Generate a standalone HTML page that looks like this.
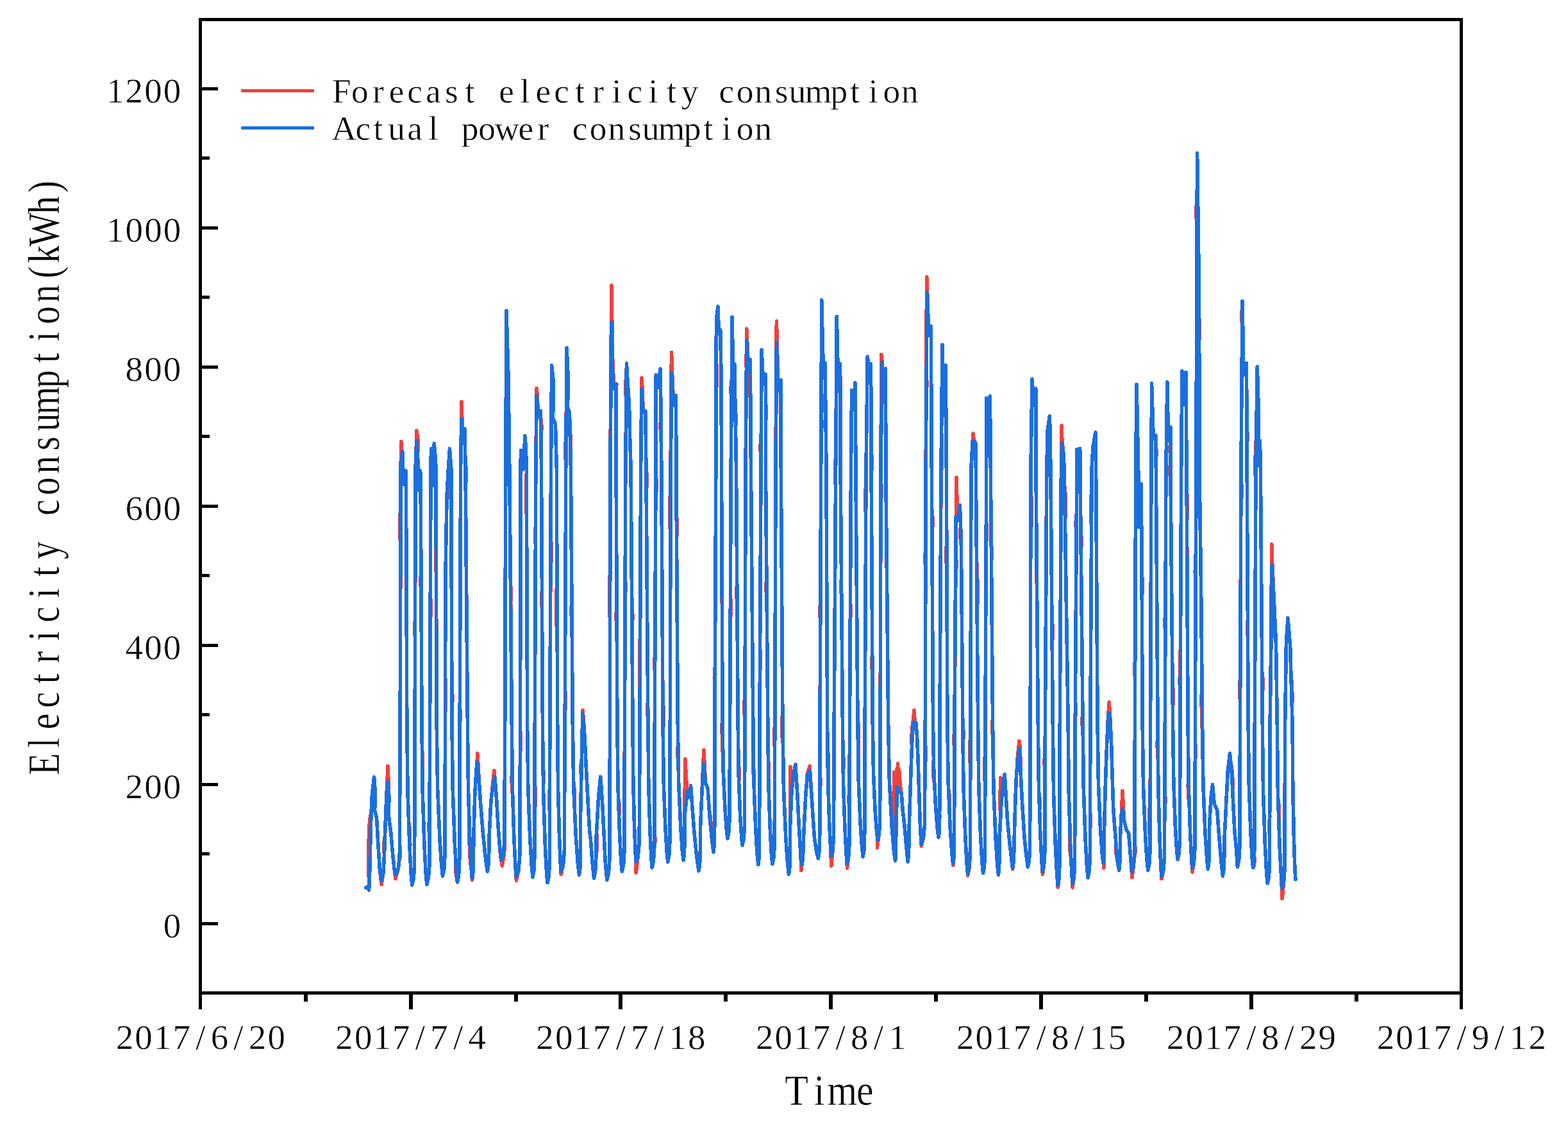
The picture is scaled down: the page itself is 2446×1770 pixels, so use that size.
<!DOCTYPE html>
<html lang="en"><head><meta charset="utf-8">
<title>Electricity consumption</title>
<style>
html,body{margin:0;padding:0;background:#fff;}
body{width:2446px;height:1770px;overflow:hidden;}
svg{display:block;}
text{font-family:"Liberation Serif","DejaVu Serif",serif;fill:#000;white-space:pre;stroke:#fff;stroke-width:0.5px;stroke-linejoin:round;}
.ax{stroke:#000;stroke-width:5;fill:none;stroke-linecap:butt;}
.red{stroke:#F14040;fill:none;stroke-linejoin:round;stroke-linecap:round;}
.blue{stroke:#1A6FDF;fill:none;stroke-linejoin:round;stroke-linecap:round;}
</style></head><body>
<svg width="2446" height="1770" viewBox="0 0 2446 1770">
<rect x="0" y="0" width="2446" height="1770" fill="#fff"/>
<g id="series" shape-rendering="crispEdges">
<path class="red" stroke-width="5.6" d="M571.0,1384.5 573.0,1383.1 575.6,1388.4 574.7,1324.4 576.2,1285.5 577.0,1276.4 578.9,1267.2 579.7,1258.0 579.6,1248.8 580.4,1239.6 583.6,1212.0 585.4,1236.1 584.6,1264.3 587.5,1274.9 589.8,1315.6 592.4,1356.2 595.1,1379.4 597.7,1363.1 599.1,1342.3 599.5,1333.3 598.8,1323.0 599.2,1312.6 600.6,1302.3 601.6,1271.4 603.0,1239.6 605.1,1194.7 606.9,1244.9 606.2,1271.4 609.7,1297.9 612.7,1333.3 615.4,1358.0 616.8,1370.6 621.5,1354.3 622.4,1344.3 624.3,1334.3 624.4,1325.0 623.4,1315.8 624.2,1130.0 624.9,848.2 623.9,839.1 623.9,830.0 623.9,821.0 623.9,811.9 624.0,802.8 625.0,793.7 625.1,730.1 625.7,698.7 626.0,688.7 626.7,701.0 629.4,755.4 633.1,733.8 633.6,793.5 634.8,1130.0 636.0,1235.1 637.6,1281.0 638.9,1290.2 639.2,1299.4 639.5,1308.5 639.8,1317.7 639.3,1326.7 641.2,1362.8 642.8,1380.3 645.2,1370.2 646.6,1350.2 647.2,1130.0 647.5,993.7 646.5,984.6 646.6,975.5 647.6,966.4 648.1,730.1 649.8,682.2 650.0,671.7 651.8,684.6 652.1,696.1 651.5,707.5 651.8,719.0 652.3,764.2 655.7,733.8 656.4,793.5 656.9,893.5 655.9,902.6 656.0,911.7 657.0,920.8 658.0,1130.0 658.4,1168.1 659.5,1177.6 659.6,1187.1 658.7,1196.7 659.2,1234.7 661.9,1317.1 664.2,1361.9 665.8,1379.4 668.4,1369.3 669.9,1349.4 670.1,1303.7 669.1,1294.5 669.1,1285.4 670.2,1276.2 670.6,1130.0 671.2,966.4 672.2,957.3 672.2,948.2 672.3,939.1 671.3,930.0 672.0,730.1 672.5,699.8 676.0,757.2 677.3,691.7 679.6,719.0 679.9,730.1 680.3,839.1 679.3,848.2 679.3,857.3 679.4,866.4 679.4,875.5 679.4,884.6 680.5,893.7 681.2,1130.0 682.6,1229.2 685.9,1307.1 688.7,1349.6 690.5,1366.1 692.7,1356.1 693.9,1336.1 694.5,1130.0 694.5,1111.8 695.6,1102.7 695.6,1093.6 695.6,1084.6 695.6,1075.5 695.6,1066.4 694.6,1057.3 694.9,902.8 696.0,832.1 697.2,770.2 699.4,730.1 701.5,699.7 703.4,726.1 703.8,730.1 703.8,748.2 702.9,757.3 702.9,766.4 702.9,775.5 703.9,784.6 704.8,1075.5 705.9,1084.6 705.9,1093.6 704.9,1102.7 705.0,1130.0 706.3,1233.3 709.3,1314.4 711.2,1347.6 710.8,1358.7 713.5,1375.9 715.5,1365.8 716.7,1345.8 717.2,1130.0 718.2,1120.9 718.3,1111.8 717.3,1102.7 718.2,839.1 717.3,830.0 717.3,821.0 718.3,811.9 718.6,730.1 719.8,644.2 720.0,626.7 720.7,648.3 722.3,691.0 725.0,668.7 725.9,719.8 727.0,730.1 727.1,739.1 727.2,748.2 726.3,757.3 729.4,1130.0 730.5,1231.0 732.3,1290.6 731.6,1300.5 731.9,1310.4 732.5,1321.2 733.0,1332.1 733.5,1342.9 735.1,1353.7 736.5,1372.3 737.9,1360.5 738.6,1339.6 738.8,1306.8 740.9,1236.1 743.0,1200.7 745.0,1174.9 747.1,1214.8 749.7,1253.7 753.3,1297.9 756.8,1333.3 760.3,1359.1 761.9,1349.0 762.8,1328.1 763.0,1306.8 765.6,1253.7 767.1,1237.8 770.9,1201.4 774.5,1244.9 777.1,1289.1 779.8,1324.4 781.1,1337.3 783.4,1350.2 784.9,1340.8 786.4,1331.3 787.1,1321.3 786.9,1311.4 787.7,1130.0 788.3,920.9 787.3,911.8 787.3,902.8 787.4,893.7 788.4,884.6 788.8,730.1 789.4,602.8 790.5,593.7 790.5,584.6 789.6,575.5 790.0,484.5 793.0,587.7 793.7,644.6 792.8,654.1 794.0,663.6 794.8,730.1 796.4,911.8 797.5,920.9 797.6,930.0 796.7,939.1 798.3,1130.0 799.1,1202.7 798.2,1211.8 798.3,1220.8 798.4,1229.9 799.7,1239.7 801.9,1308.4 804.0,1351.3 805.4,1373.2 808.8,1357.8 810.7,1337.9 811.4,1175.2 812.4,1166.2 812.5,1157.1 812.5,1148.1 811.6,1139.0 811.6,1130.0 812.1,730.1 812.5,702.3 816.0,732.4 819.0,679.7 820.4,700.8 821.3,730.1 821.3,739.1 820.4,748.2 820.4,757.3 820.4,766.4 820.5,775.5 820.5,784.6 820.5,793.7 821.5,802.8 822.6,1130.0 823.8,1229.9 826.8,1308.4 829.3,1351.3 831.0,1367.9 832.8,1357.8 833.8,1337.9 834.0,1265.6 835.0,1256.5 835.0,1247.5 835.1,1238.5 835.1,1229.4 834.1,1220.4 834.3,1130.0 835.4,848.2 834.4,839.1 834.4,830.0 835.5,821.0 835.8,730.1 837.0,612.7 837.2,605.4 837.9,614.4 839.9,650.3 843.4,640.4 843.5,650.4 844.7,660.4 844.8,670.3 843.9,680.3 844.5,730.1 845.4,920.9 844.4,930.0 844.5,939.1 845.5,948.2 846.4,1130.0 847.1,1196.0 848.2,1205.4 848.4,1214.8 847.5,1224.2 847.6,1233.6 850.2,1315.1 852.5,1359.5 854.0,1376.8 856.1,1366.7 857.3,1346.7 857.5,1265.4 856.5,1256.4 856.5,1247.4 856.5,1238.4 857.6,1229.3 857.8,1130.0 858.9,884.6 859.9,875.5 859.9,866.4 860.0,857.3 860.0,848.2 859.0,839.1 859.5,730.1 860.6,569.7 863.7,599.1 862.5,652.1 866.4,660.9 868.3,730.1 868.9,911.8 868.0,920.9 868.0,930.0 868.0,939.1 868.1,948.2 868.1,957.3 868.1,966.4 868.2,975.5 869.2,984.6 869.7,1130.0 870.5,1226.2 872.4,1301.8 874.1,1343.0 875.2,1363.5 878.5,1349.0 880.3,1329.0 881.2,1130.0 881.3,1111.8 882.3,1102.7 882.4,1093.6 882.4,1084.6 881.4,1075.5 882.7,730.1 882.7,720.7 881.8,711.3 881.9,702.0 881.9,692.6 883.0,683.2 884.1,542.7 886.7,599.1 885.3,634.4 888.5,643.3 889.1,672.2 890.4,681.8 890.6,691.5 889.8,701.1 890.4,730.1 891.9,939.1 891.0,948.2 891.0,957.3 892.1,966.4 893.3,1130.0 894.6,1218.6 895.8,1228.4 896.2,1238.1 895.7,1247.8 898.4,1305.8 901.5,1348.0 903.5,1364.4 904.8,1354.3 905.5,1333.4 905.6,1271.4 906.8,1212.5 906.0,1202.7 906.2,1192.8 907.4,1183.0 909.2,1107.6 912.0,1147.7 914.5,1200.7 917.3,1253.7 919.8,1297.9 921.2,1306.8 923.8,1342.1 926.5,1369.7 928.6,1359.6 929.7,1338.7 930.8,1328.1 930.9,1317.4 931.0,1306.8 930.6,1296.4 933.5,1244.9 936.7,1211.1 939.7,1253.7 942.0,1297.9 944.1,1342.1 946.8,1372.3 949.4,1361.4 950.8,1341.4 951.5,1130.0 951.7,966.4 950.7,957.3 950.7,948.2 950.7,939.1 950.7,930.0 950.7,920.9 950.7,911.8 950.7,902.8 951.7,893.7 951.9,730.1 953.6,482.5 953.9,445.1 954.6,491.1 956.0,577.4 957.2,587.0 957.4,596.6 957.5,606.2 961.9,598.9 960.9,608.3 961.1,730.1 962.1,948.2 961.1,957.3 961.2,966.4 962.2,975.5 962.9,1130.0 964.0,1226.2 964.6,1245.1 966.0,1254.6 966.3,1264.0 965.6,1273.5 966.6,1301.8 968.8,1343.0 970.3,1359.1 972.6,1349.0 973.8,1329.0 974.2,1202.4 973.3,1193.3 973.3,1184.3 974.3,1175.2 974.5,1130.0 975.1,930.0 976.1,920.9 976.2,911.8 975.2,902.8 975.8,730.1 976.8,621.4 975.9,612.4 976.0,603.3 976.1,594.2 977.2,585.2 977.4,567.1 979.0,593.8 980.6,618.5 981.6,634.4 982.5,676.9 984.1,730.1 985.5,930.0 986.6,939.1 986.7,948.2 986.7,957.3 986.8,966.4 985.9,975.5 987.0,1130.0 987.8,1219.9 989.6,1290.5 991.2,1329.1 992.2,1360.8 995.4,1334.0 997.2,1314.0 998.1,1130.0 998.3,1057.3 997.4,1048.2 997.4,1039.1 997.4,1030.0 997.5,1020.9 997.5,1011.8 997.6,1002.7 998.6,993.7 999.6,730.1 1000.8,600.7 1001.1,589.2 1001.8,603.3 1003.4,643.3 1006.9,641.3 1007.9,730.1 1009.0,739.1 1009.1,748.2 1009.1,757.3 1008.2,766.4 1010.6,1093.6 1009.7,1102.7 1009.7,1111.8 1010.8,1120.9 1010.9,1130.0 1011.8,1223.6 1014.0,1297.2 1015.9,1337.3 1017.1,1352.9 1019.4,1342.8 1020.7,1322.8 1021.7,1313.7 1021.7,1304.5 1020.8,1295.3 1021.3,1130.0 1021.6,1048.2 1020.7,1039.1 1020.7,1030.0 1021.8,1020.9 1022.8,775.5 1023.8,766.4 1023.9,757.3 1023.9,748.2 1022.9,739.1 1023.0,730.1 1023.3,584.8 1026.9,604.4 1029.9,575.0 1031.1,640.1 1031.2,650.1 1030.2,660.1 1030.3,670.1 1030.4,680.1 1031.5,690.1 1031.8,730.1 1033.9,1093.6 1035.0,1102.7 1035.0,1111.8 1035.1,1120.9 1035.1,1130.0 1034.2,1140.0 1035.2,1219.9 1037.9,1290.5 1040.2,1329.1 1041.7,1344.1 1043.7,1334.0 1044.8,1314.0 1045.3,1130.0 1045.9,830.0 1044.9,821.0 1045.0,811.9 1045.0,802.8 1045.0,793.7 1045.0,784.6 1045.0,775.5 1046.1,766.4 1046.1,730.1 1047.3,570.1 1047.5,549.4 1048.3,574.9 1050.7,632.7 1054.6,616.6 1054.8,730.1 1055.2,802.8 1056.3,811.9 1056.4,821.0 1056.4,830.0 1055.5,839.1 1057.3,1130.0 1057.7,1159.6 1056.9,1169.5 1057.0,1179.3 1058.1,1189.2 1058.6,1218.8 1061.7,1288.6 1064.3,1326.6 1066.1,1341.4 1067.4,1331.3 1068.1,1310.5 1067.5,1253.7 1067.9,1233.7 1069.0,1223.7 1069.2,1213.7 1068.4,1203.7 1068.8,1183.7 1071.4,1229.0 1074.9,1243.1 1077.6,1225.3 1080.2,1262.6 1082.9,1297.9 1086.4,1333.3 1090.0,1358.2 1091.6,1348.1 1091.0,1337.7 1092.4,1327.3 1092.6,1289.1 1095.3,1227.2 1097.9,1169.6 1100.6,1221.9 1104.1,1229.0 1106.1,1260.8 1107.8,1271.4 1108.9,1283.2 1109.1,1295.0 1110.3,1306.8 1112.9,1329.0 1114.1,1319.0 1114.7,1299.0 1115.0,1130.0 1115.3,1066.4 1114.3,1057.3 1114.4,1048.2 1115.4,1039.1 1116.8,730.1 1117.1,609.6 1118.1,600.3 1118.1,591.0 1118.2,581.8 1118.2,572.5 1117.2,563.2 1117.4,498.3 1120.0,477.8 1121.4,520.6 1123.7,514.2 1125.1,588.5 1125.5,730.1 1127.0,1120.9 1126.1,1130.0 1126.2,1139.3 1126.4,1148.7 1126.5,1158.0 1126.7,1167.3 1127.8,1176.7 1128.3,1204.7 1131.1,1263.4 1133.4,1295.4 1135.0,1307.8 1137.0,1297.7 1138.0,1277.8 1138.6,1130.0 1139.2,966.4 1140.3,957.3 1140.3,948.2 1140.3,939.1 1139.4,930.0 1140.2,730.1 1141.1,621.4 1140.1,612.3 1140.2,603.3 1141.3,594.2 1142.1,494.6 1143.5,573.6 1145.8,567.3 1147.0,639.6 1148.1,648.7 1148.3,657.7 1147.4,666.7 1148.5,730.1 1149.7,911.8 1148.8,920.9 1148.8,930.0 1149.9,939.1 1151.2,1130.0 1152.0,1189.4 1153.1,1199.2 1153.2,1209.1 1152.6,1219.5 1154.6,1271.3 1156.7,1305.2 1158.0,1318.4 1160.2,1308.3 1161.4,1288.4 1162.0,1130.0 1162.0,1120.9 1161.0,1111.8 1161.1,1102.7 1161.1,1093.6 1162.1,1084.6 1163.1,730.1 1163.8,627.3 1164.9,618.0 1164.9,608.6 1165.0,599.3 1165.0,589.9 1165.1,580.6 1164.2,571.3 1164.5,524.5 1164.7,512.8 1165.4,527.2 1167.7,577.9 1170.4,560.9 1171.4,730.1 1174.8,1130.0 1175.2,1157.5 1174.3,1166.7 1174.4,1175.9 1174.5,1185.1 1174.6,1194.2 1174.8,1203.4 1175.9,1212.6 1176.0,1221.8 1178.8,1293.9 1181.2,1333.2 1182.8,1348.5 1184.0,1338.4 1184.6,1318.4 1185.0,1130.0 1185.4,1048.2 1186.4,1039.1 1186.5,1030.0 1186.5,1020.9 1185.6,1011.8 1187.0,730.1 1187.1,711.6 1186.2,702.4 1186.2,693.2 1187.3,684.0 1188.1,545.9 1190.7,599.1 1194.6,583.9 1194.5,629.6 1195.5,638.7 1195.5,647.8 1194.5,657.0 1194.4,730.1 1195.9,902.8 1195.0,911.8 1195.0,920.9 1196.1,930.0 1197.8,1130.0 1198.4,1184.8 1199.5,1194.0 1199.6,1203.1 1198.7,1212.2 1198.8,1221.4 1201.3,1293.2 1203.4,1332.4 1204.9,1347.6 1207.0,1337.5 1208.2,1317.5 1208.7,1167.5 1207.7,1158.1 1207.8,1148.8 1207.8,1139.4 1208.8,1130.0 1210.0,730.1 1210.4,648.7 1211.5,639.6 1211.5,630.6 1211.6,621.5 1211.6,612.5 1211.7,603.4 1210.7,594.4 1211.1,522.1 1211.4,500.8 1212.1,527.0 1214.0,609.7 1218.1,592.7 1218.3,730.1 1220.8,1111.8 1219.9,1120.9 1219.9,1130.0 1220.1,1139.8 1220.2,1149.6 1221.4,1159.4 1222.4,1228.1 1225.7,1305.1 1228.6,1347.2 1230.5,1363.5 1231.8,1353.4 1232.4,1332.6 1232.6,1289.1 1232.8,1195.8 1235.4,1229.0 1236.5,1219.3 1238.6,1209.5 1241.7,1192.2 1241.5,1203.2 1243.7,1236.1 1246.4,1289.1 1249.0,1333.3 1249.9,1357.3 1252.4,1338.4 1253.3,1317.5 1253.5,1306.8 1257.0,1236.1 1258.3,1222.8 1258.7,1209.5 1263.2,1194.7 1265.8,1236.1 1268.0,1271.4 1270.3,1305.0 1272.9,1324.4 1276.4,1338.7 1277.9,1328.7 1278.7,1308.7 1278.9,1233.5 1279.9,1224.1 1279.9,1214.6 1278.9,1205.2 1279.1,1130.0 1279.7,966.4 1278.8,957.3 1278.8,948.2 1279.9,939.1 1280.7,730.1 1280.9,675.8 1281.9,666.7 1282.0,657.7 1281.0,648.7 1281.7,467.8 1284.0,563.7 1287.0,566.2 1287.6,611.7 1286.7,620.8 1286.8,629.9 1286.9,639.0 1288.0,648.1 1289.0,730.1 1290.6,1130.0 1291.0,1168.1 1292.1,1177.7 1292.2,1187.2 1292.3,1196.7 1292.4,1206.3 1292.5,1215.8 1291.8,1225.5 1293.7,1283.2 1295.5,1320.0 1296.8,1350.2 1299.2,1324.3 1300.5,1304.3 1301.2,1130.0 1303.5,757.3 1302.6,748.2 1302.6,739.1 1302.7,730.1 1302.7,721.0 1303.8,711.9 1305.3,493.7 1307.9,610.7 1310.6,567.3 1310.6,585.4 1311.6,594.4 1311.7,603.4 1310.7,612.5 1311.1,730.1 1312.5,902.8 1311.6,911.8 1311.7,920.9 1312.8,930.0 1314.4,1130.0 1315.0,1175.5 1316.1,1184.6 1316.2,1193.7 1315.3,1202.8 1315.5,1221.0 1318.0,1292.5 1320.1,1331.5 1321.5,1353.8 1323.7,1336.6 1324.9,1316.7 1325.1,1260.7 1324.1,1251.3 1324.1,1242.0 1325.1,1232.7 1325.5,1130.0 1326.3,966.4 1327.3,957.3 1327.4,948.2 1326.4,939.1 1327.5,730.1 1328.6,608.6 1328.4,619.0 1329.3,629.4 1330.2,639.7 1331.9,629.1 1333.9,597.1 1334.5,653.0 1334.9,730.1 1337.9,1120.9 1339.0,1130.0 1339.2,1139.6 1339.3,1149.2 1339.4,1158.9 1339.6,1168.5 1339.7,1178.1 1338.8,1187.7 1339.2,1216.6 1342.1,1284.6 1344.6,1321.7 1346.2,1336.1 1347.8,1326.0 1348.7,1306.0 1349.2,1130.0 1350.7,802.8 1349.7,793.7 1349.8,784.6 1349.8,775.5 1349.8,766.4 1350.9,757.3 1351.0,730.1 1353.3,556.0 1356.3,579.6 1358.6,567.3 1359.0,702.9 1360.1,712.0 1360.1,721.0 1360.1,730.1 1359.2,739.1 1360.7,1020.9 1359.7,1030.0 1359.8,1039.1 1360.8,1048.2 1361.3,1130.0 1362.5,1205.8 1365.2,1265.4 1366.8,1287.0 1368.6,1297.8 1369.0,1309.9 1368.3,1322.0 1371.4,1300.4 1372.6,1280.4 1373.2,1130.0 1373.3,1075.5 1372.3,1066.4 1372.3,1057.3 1373.4,1048.2 1373.9,784.6 1374.9,775.5 1374.9,766.4 1374.9,757.3 1373.9,748.2 1374.0,730.1 1374.8,560.4 1375.0,552.9 1375.8,562.1 1378.1,627.4 1381.6,575.0 1381.6,593.3 1380.6,602.4 1380.6,611.5 1380.6,620.6 1381.6,629.8 1381.8,730.1 1385.7,1130.0 1387.4,1219.2 1387.9,1229.2 1389.5,1239.2 1390.0,1249.2 1390.5,1259.2 1391.1,1269.2 1391.6,1279.2 1392.2,1289.2 1392.0,1298.8 1394.4,1327.4 1396.6,1342.3 1397.4,1332.2 1397.7,1311.4 1394.0,1253.7 1394.8,1204.2 1397.0,1225.4 1398.4,1200.7 1399.4,1221.9 1400.5,1190.8 1401.6,1218.4 1402.6,1200.7 1404.0,1221.9 1406.3,1237.8 1408.1,1262.6 1410.8,1285.5 1413.4,1315.6 1416.1,1344.1 1417.3,1334.0 1418.0,1313.1 1418.2,1289.1 1419.9,1236.1 1421.7,1183.0 1422.5,1163.6 1421.9,1153.9 1422.3,1144.1 1423.4,1130.0 1425.1,1118.8 1425.8,1107.6 1427.4,1128.2 1428.8,1126.8 1430.5,1147.7 1432.0,1183.0 1433.7,1236.1 1435.5,1289.1 1437.3,1319.3 1440.6,1306.6 1442.4,1286.6 1442.9,1194.5 1444.0,1185.3 1444.0,1176.1 1444.1,1166.8 1443.1,1157.6 1443.3,1130.0 1443.8,884.6 1442.8,875.5 1442.9,866.4 1443.9,857.3 1444.2,730.1 1444.7,611.9 1445.8,602.8 1445.8,593.7 1444.8,584.6 1445.5,448.2 1445.7,431.9 1446.5,451.9 1448.8,523.1 1451.3,508.8 1452.3,518.0 1453.3,730.1 1453.7,793.7 1454.7,802.8 1454.8,811.9 1454.8,821.0 1453.9,830.0 1455.5,1130.0 1456.4,1185.5 1455.6,1194.7 1455.8,1203.9 1456.3,1213.6 1457.8,1223.3 1459.8,1262.0 1462.4,1293.7 1464.1,1306.0 1465.2,1296.0 1465.7,1276.0 1466.0,1130.0 1468.0,739.1 1469.0,730.1 1469.1,720.9 1469.2,711.8 1469.3,702.6 1469.4,693.5 1469.5,684.3 1468.6,675.2 1470.0,537.9 1471.7,647.9 1475.3,569.7 1476.3,730.1 1476.8,848.2 1475.8,857.3 1475.9,866.4 1475.9,875.5 1476.9,884.6 1477.9,1130.0 1479.2,1221.0 1479.7,1231.2 1481.1,1241.4 1481.6,1251.7 1481.0,1261.9 1482.3,1292.5 1485.0,1331.5 1486.8,1349.4 1488.0,1336.6 1488.6,1316.7 1488.9,1167.3 1487.9,1158.0 1487.9,1148.7 1488.9,1139.3 1489.0,1130.0 1490.9,894.2 1491.9,885.2 1492.0,876.1 1491.1,867.0 1491.5,812.6 1492.1,744.6 1492.9,778.1 1493.7,810.9 1494.2,811.9 1497.4,787.9 1498.5,819.7 1497.9,830.3 1498.3,840.9 1499.4,850.9 1500.0,920.5 1501.8,1130.0 1502.9,1139.8 1503.0,1149.5 1502.1,1159.3 1503.0,1227.7 1505.8,1304.5 1508.1,1346.3 1509.7,1365.3 1512.1,1352.5 1513.3,1332.6 1513.8,1194.5 1512.8,1185.2 1512.8,1176.0 1512.9,1166.8 1512.9,1157.6 1513.9,1148.4 1514.0,1130.0 1514.9,730.1 1518.0,683.4 1518.2,676.1 1518.9,685.1 1522.1,691.7 1522.3,730.1 1523.5,875.5 1524.6,884.6 1524.7,893.7 1524.7,902.8 1524.8,911.8 1524.9,920.9 1525.0,930.0 1525.0,939.1 1524.1,948.2 1525.6,1130.0 1526.8,1227.3 1529.6,1303.8 1532.0,1345.5 1533.6,1361.7 1535.4,1351.7 1536.5,1331.7 1536.7,1221.7 1535.7,1212.5 1535.8,1203.3 1535.8,1194.2 1535.8,1185.0 1536.8,1175.8 1537.0,1130.0 1538.2,848.2 1539.2,839.1 1539.3,830.0 1539.3,821.0 1538.4,811.9 1538.7,730.1 1538.9,621.0 1541.6,676.1 1542.4,656.8 1541.9,647.1 1543.3,637.4 1544.2,618.0 1544.9,665.1 1545.3,730.1 1546.3,848.2 1547.3,857.3 1547.4,866.4 1546.5,875.5 1548.5,1120.9 1547.6,1130.0 1547.8,1139.8 1548.9,1149.7 1549.9,1228.4 1553.0,1305.8 1555.7,1348.0 1557.5,1364.4 1558.5,1354.3 1559.1,1333.4 1559.2,1306.8 1559.4,1297.4 1560.5,1288.0 1560.7,1278.6 1560.8,1269.2 1559.9,1259.8 1560.6,1212.9 1563.1,1229.0 1564.5,1221.9 1567.2,1207.6 1569.5,1244.9 1571.6,1280.2 1575.1,1315.6 1579.6,1355.5 1581.1,1343.7 1582.0,1322.8 1582.2,1306.8 1584.0,1244.9 1585.7,1204.2 1586.8,1194.5 1586.9,1184.7 1587.9,1175.0 1589.0,1165.2 1590.0,1155.5 1591.3,1165.9 1592.8,1218.4 1594.9,1257.3 1598.1,1306.8 1600.8,1333.3 1603.4,1352.0 1605.5,1341.9 1606.6,1322.0 1607.2,1130.0 1607.8,830.0 1608.8,821.0 1608.8,811.9 1608.9,802.8 1608.9,793.7 1608.9,784.6 1608.9,775.5 1607.9,766.4 1608.0,730.1 1610.0,591.0 1612.6,632.7 1615.8,606.0 1616.0,730.1 1617.2,875.5 1616.3,884.6 1616.3,893.7 1616.4,902.8 1617.5,911.8 1619.3,1130.0 1620.4,1226.2 1620.7,1235.7 1622.0,1245.1 1622.3,1254.6 1621.6,1264.0 1622.9,1301.8 1625.0,1343.0 1626.4,1363.5 1628.6,1349.0 1629.8,1329.0 1630.2,1202.4 1629.2,1193.3 1629.2,1184.3 1630.2,1175.2 1630.4,1130.0 1631.6,930.0 1632.6,920.9 1632.7,911.8 1631.7,902.8 1632.8,730.1 1634.3,669.8 1637.4,648.9 1636.7,660.3 1638.0,671.6 1638.3,683.0 1638.9,730.1 1640.9,966.4 1642.0,975.5 1642.1,984.6 1642.2,993.7 1641.2,1002.7 1642.3,1130.0 1643.5,1235.1 1646.3,1317.7 1648.7,1362.8 1650.3,1383.8 1652.0,1370.2 1652.9,1350.2 1651.9,1341.1 1651.9,1331.9 1651.9,1322.7 1652.0,1313.5 1653.0,1304.4 1653.3,1130.0 1655.4,730.1 1655.8,681.4 1656.1,663.8 1656.8,685.4 1658.9,707.3 1660.2,730.1 1660.6,757.3 1661.7,766.4 1661.8,775.5 1662.0,784.6 1662.1,793.7 1662.2,802.8 1661.4,811.9 1666.2,1130.0 1667.2,1234.4 1669.1,1298.2 1668.4,1307.3 1668.7,1316.4 1669.2,1327.6 1670.8,1338.8 1671.8,1361.1 1673.2,1383.8 1675.4,1368.4 1676.6,1348.5 1677.2,1130.0 1677.3,1120.9 1678.3,1111.8 1678.4,1102.7 1677.4,1093.6 1679.1,830.0 1678.2,821.0 1678.3,811.9 1679.3,802.8 1679.8,730.1 1679.4,701.4 1684.7,699.7 1684.8,712.4 1684.9,730.1 1686.0,830.0 1687.1,839.1 1687.2,848.2 1686.3,857.3 1688.9,1111.8 1688.0,1120.9 1688.1,1130.0 1689.3,1139.1 1690.3,1230.3 1693.1,1309.1 1695.5,1352.1 1697.1,1368.8 1699.2,1358.7 1700.3,1338.7 1700.4,1293.4 1701.5,1284.3 1701.5,1275.2 1700.5,1266.1 1700.9,1130.0 1702.6,821.0 1701.6,811.9 1701.7,802.8 1701.7,793.7 1701.8,784.6 1701.8,775.5 1702.9,766.4 1703.1,730.1 1705.0,696.3 1708.9,674.0 1709.4,697.6 1709.6,730.1 1712.1,1130.0 1713.4,1220.6 1716.5,1291.9 1718.5,1321.0 1720.2,1330.7 1721.0,1342.2 1721.9,1353.8 1722.5,1344.8 1722.0,1335.7 1722.6,1314.9 1722.7,1289.1 1724.5,1218.4 1726.8,1156.5 1728.5,1119.4 1730.3,1095.0 1731.7,1119.4 1733.5,1156.5 1735.1,1209.5 1736.8,1262.6 1739.5,1297.9 1740.4,1309.0 1740.3,1320.0 1741.1,1331.1 1743.0,1342.1 1745.7,1357.3 1746.7,1347.2 1747.3,1326.4 1747.4,1306.8 1749.2,1271.4 1751.0,1233.2 1753.6,1280.2 1757.2,1294.4 1760.7,1299.7 1763.4,1333.3 1766.0,1368.8 1768.4,1349.9 1769.1,1339.9 1770.8,1329.9 1770.8,1320.8 1769.8,1311.7 1770.4,1130.0 1770.6,1057.3 1769.7,1048.2 1769.7,1039.1 1770.7,1030.0 1771.5,784.6 1772.5,775.5 1772.5,766.4 1771.6,757.3 1771.7,730.1 1773.1,599.8 1775.0,695.7 1774.1,705.3 1774.3,714.9 1775.5,724.5 1775.9,743.7 1777.1,822.6 1780.3,755.0 1781.0,867.4 1781.1,894.6 1782.2,903.6 1782.2,912.7 1782.3,921.7 1781.3,930.8 1782.2,1130.0 1783.5,1225.5 1786.5,1300.5 1789.0,1341.4 1790.8,1357.3 1792.8,1347.2 1794.0,1327.3 1794.0,1308.5 1793.1,1299.1 1793.1,1289.7 1793.1,1280.3 1793.1,1270.9 1793.2,1261.5 1794.2,1252.1 1794.6,1130.0 1795.9,730.1 1796.6,598.0 1798.9,674.4 1800.2,683.9 1803.2,679.3 1803.5,689.5 1803.7,699.6 1803.9,709.8 1803.1,719.9 1803.3,730.1 1806.0,1130.0 1806.1,1148.1 1805.2,1157.2 1805.3,1166.2 1805.4,1175.3 1806.4,1184.3 1806.9,1229.6 1809.0,1307.8 1810.8,1350.4 1812.0,1370.6 1814.9,1357.0 1816.5,1337.0 1816.8,1261.7 1817.8,1252.3 1817.8,1242.9 1816.9,1233.5 1817.3,1130.0 1817.8,984.6 1816.9,975.5 1816.9,966.4 1818.0,957.3 1818.9,730.1 1819.1,710.9 1820.3,701.3 1819.4,691.7 1820.8,595.9 1822.6,687.5 1826.1,666.1 1826.0,720.9 1824.9,730.1 1825.0,739.1 1826.1,748.2 1829.0,1066.4 1830.1,1075.5 1830.2,1084.6 1830.3,1093.6 1829.4,1102.7 1829.6,1130.0 1830.8,1218.4 1833.3,1287.9 1835.6,1325.8 1837.1,1340.5 1839.2,1330.4 1840.4,1310.5 1841.0,1130.0 1841.2,1075.5 1840.2,1066.4 1840.3,1057.3 1840.3,1048.2 1840.4,1039.1 1840.4,1030.0 1840.4,1020.9 1841.5,1011.8 1842.7,730.1 1843.8,578.6 1847.0,630.9 1850.0,580.3 1851.0,730.1 1851.2,766.4 1852.3,775.5 1852.3,784.6 1852.4,793.7 1852.4,802.8 1851.5,811.9 1853.1,1130.0 1854.1,1214.9 1853.2,1224.4 1853.5,1233.6 1853.8,1242.9 1855.1,1252.2 1856.6,1298.5 1858.7,1338.9 1860.0,1360.0 1862.5,1344.6 1863.9,1324.6 1864.4,1185.6 1865.4,1176.3 1865.4,1167.1 1864.5,1157.8 1864.5,1130.0 1865.0,910.1 1865.1,900.6 1864.1,891.2 1865.2,881.7 1866.0,768.5 1866.3,631.6 1867.3,622.5 1867.3,613.4 1866.3,604.2 1866.6,440.0 1867.1,348.6 1866.1,339.4 1866.2,330.3 1866.2,321.1 1867.3,312.0 1867.6,238.8 1870.3,440.0 1870.5,494.7 1871.5,503.9 1871.6,513.0 1871.6,522.1 1870.6,531.2 1871.5,768.5 1873.5,910.1 1875.1,1075.0 1874.2,1084.2 1874.2,1093.3 1874.3,1102.5 1874.4,1111.7 1874.5,1120.8 1874.6,1130.0 1875.7,1139.5 1876.9,1224.7 1880.0,1299.2 1882.7,1339.8 1884.4,1355.5 1885.7,1345.5 1886.4,1324.6 1886.6,1289.1 1888.9,1244.9 1891.5,1223.5 1894.2,1253.7 1898.6,1262.6 1901.2,1297.9 1904.8,1342.1 1907.4,1366.1 1909.0,1356.1 1909.8,1335.2 1910.1,1306.8 1912.7,1253.7 1915.4,1200.7 1918.5,1174.9 1919.5,1186.4 1921.5,1198.0 1922.6,1209.5 1923.1,1221.3 1922.7,1233.1 1923.3,1244.9 1926.0,1297.9 1928.6,1324.4 1930.4,1352.0 1932.6,1341.9 1933.8,1322.0 1934.5,1130.0 1934.6,1093.6 1933.6,1084.6 1933.7,1075.5 1933.7,1066.4 1934.7,1057.3 1935.8,784.6 1936.9,775.5 1936.9,766.4 1936.9,757.3 1936.0,748.2 1936.0,730.1 1937.7,507.0 1936.8,497.7 1936.9,488.5 1937.9,479.2 1938.0,469.9 1940.1,584.9 1944.5,566.2 1945.0,666.3 1946.0,675.4 1946.0,684.5 1945.1,693.6 1945.2,730.1 1946.4,966.4 1945.4,975.5 1945.5,984.6 1946.5,993.7 1947.2,1130.0 1948.3,1223.6 1950.9,1297.2 1953.1,1337.3 1955.6,1352.9 1957.1,1342.8 1956.5,1332.8 1956.9,1322.8 1957.3,1130.0 1958.9,748.2 1958.0,739.1 1958.0,730.1 1958.2,720.8 1958.3,711.5 1958.4,702.2 1958.6,692.9 1959.7,683.6 1961.3,572.0 1963.6,652.1 1962.7,726.3 1965.4,687.5 1966.4,730.1 1968.7,1048.2 1969.8,1057.3 1969.8,1066.4 1969.9,1075.5 1969.0,1084.6 1969.3,1130.0 1970.5,1234.0 1973.3,1315.7 1975.6,1360.3 1977.2,1377.6 1979.4,1367.6 1980.5,1347.6 1980.7,1302.3 1979.7,1293.2 1979.7,1284.1 1980.7,1275.1 1981.1,1130.0 1982.9,994.2 1984.1,985.1 1984.1,975.5 1983.1,965.9 1983.5,869.5 1983.8,848.9 1984.5,874.3 1989.2,975.3 1988.6,984.5 1989.1,993.6 1990.5,1002.8 1992.3,1130.0 1993.4,1237.3 1993.8,1246.7 1995.1,1256.1 1995.4,1265.5 1994.7,1274.8 1996.2,1321.7 1998.6,1367.7 2000.2,1401.5 2002.6,1375.5 2004.0,1355.5 2004.3,1256.3 2003.3,1247.3 2003.3,1238.3 2003.3,1229.2 2004.4,1220.2 2004.6,1130.0 2006.4,1002.8 2009.0,963.7 2012.6,1006.3 2013.9,1053.9 2015.2,1063.4 2015.5,1072.9 2015.8,1082.4 2016.0,1092.0 2015.3,1101.5 2016.1,1130.0 2016.8,1231.3 2018.5,1311.0 2019.9,1354.4 2020.9,1371.3"/>
<path class="blue" stroke-width="5.6" d="M571.0,1384.5 573.0,1383.1 575.6,1388.4 577.0,1350.9 578.3,1289.1 580.4,1239.6 583.6,1212.0 585.4,1236.1 584.6,1264.3 587.5,1274.9 589.8,1315.6 592.4,1356.2 595.1,1373.2 597.7,1363.1 599.1,1342.3 599.5,1333.3 601.6,1271.4 603.0,1239.6 604.8,1219.1 606.9,1244.9 606.2,1271.4 609.7,1297.9 612.7,1333.3 615.4,1358.0 618.1,1364.4 621.5,1354.3 623.3,1334.3 624.2,1130.0 625.1,730.1 627.8,704.1 629.4,755.4 633.1,733.8 633.6,793.5 634.8,1130.0 636.0,1235.1 638.8,1317.7 641.2,1362.8 642.8,1380.3 645.2,1370.2 646.6,1350.2 647.2,1130.0 648.1,730.1 649.9,687.8 651.8,719.0 652.3,764.2 655.7,733.8 656.4,793.5 658.0,1130.0 659.2,1234.7 661.9,1317.1 664.2,1361.9 665.8,1379.4 668.4,1369.3 669.9,1349.4 670.6,1130.0 672.0,730.1 672.5,699.8 676.0,757.2 677.3,691.7 679.6,719.0 679.9,730.1 681.2,1130.0 682.6,1229.2 685.9,1307.1 688.7,1349.6 690.5,1366.1 692.7,1356.1 693.9,1336.1 694.5,1130.0 694.9,902.8 696.0,832.1 697.2,770.2 699.4,730.1 701.5,699.7 703.4,726.1 703.8,730.1 705.0,1130.0 706.3,1233.3 709.3,1314.4 711.8,1358.7 713.5,1375.9 715.5,1365.8 716.7,1345.8 717.2,1130.0 718.6,730.1 720.0,653.7 722.3,691.0 725.0,668.7 726.0,730.1 729.4,1130.0 730.5,1231.0 732.9,1310.4 735.1,1353.7 736.5,1370.6 737.9,1360.5 738.6,1339.6 738.8,1306.8 740.9,1236.1 743.0,1200.7 744.4,1188.2 747.1,1214.8 749.7,1253.7 753.3,1297.9 756.8,1333.3 760.3,1359.1 761.9,1349.0 762.8,1328.1 763.0,1306.8 765.6,1253.7 767.1,1237.8 771.8,1211.1 774.5,1244.9 777.1,1289.1 779.8,1324.4 782.4,1341.4 785.4,1331.3 786.9,1311.4 787.7,1130.0 788.8,730.1 790.0,484.5 793.0,587.7 794.8,730.1 798.3,1130.0 799.4,1229.9 801.9,1308.4 804.0,1351.3 805.4,1367.9 808.8,1357.8 810.7,1337.9 811.6,1130.0 812.1,730.1 812.5,702.3 816.0,732.4 819.0,679.7 820.4,700.8 821.3,730.1 822.6,1130.0 823.8,1229.9 826.8,1308.4 829.3,1351.3 831.0,1367.9 832.8,1357.8 833.8,1337.9 834.3,1130.0 835.8,730.1 837.2,616.6 839.9,650.3 843.4,640.4 844.5,730.1 846.4,1130.0 847.6,1233.6 850.2,1315.1 852.5,1359.5 854.0,1376.8 856.1,1366.7 857.3,1346.7 857.8,1130.0 859.5,730.1 860.6,569.7 863.7,599.1 862.5,652.1 866.4,660.9 868.3,730.1 869.7,1130.0 870.5,1226.2 872.4,1301.8 874.1,1343.0 875.2,1359.1 878.5,1349.0 880.3,1329.0 881.2,1130.0 882.7,730.1 884.1,542.7 886.7,599.1 885.3,634.4 888.5,643.3 890.4,730.1 893.3,1130.0 894.8,1228.4 898.4,1305.8 901.5,1348.0 903.5,1364.4 904.8,1354.3 905.5,1333.4 905.6,1271.4 907.4,1183.0 908.8,1112.0 912.0,1147.7 914.5,1200.7 917.3,1253.7 919.8,1297.9 921.2,1306.8 923.8,1342.1 926.5,1369.7 928.6,1359.6 929.7,1338.7 930.0,1306.8 933.5,1244.9 936.7,1211.1 939.7,1253.7 942.0,1297.9 944.1,1342.1 946.8,1371.4 949.4,1361.4 950.8,1341.4 951.5,1130.0 951.9,730.1 953.9,502.6 956.5,606.2 960.9,598.9 961.1,730.1 962.9,1130.0 964.0,1226.2 966.6,1301.8 968.8,1343.0 970.3,1359.1 972.6,1349.0 973.8,1329.0 974.5,1130.0 975.8,730.1 977.4,567.1 979.0,593.8 980.6,618.5 981.6,634.4 982.5,676.9 984.1,730.1 987.0,1130.0 987.8,1219.9 989.6,1290.5 991.2,1329.1 992.2,1344.1 995.4,1334.0 997.2,1314.0 998.1,1130.0 999.6,730.1 1001.1,606.9 1003.4,643.3 1006.9,641.3 1007.9,730.1 1010.9,1130.0 1011.8,1223.6 1014.0,1297.2 1015.9,1337.3 1017.1,1352.9 1019.4,1342.8 1020.7,1322.8 1021.3,1130.0 1023.0,730.1 1023.3,584.8 1026.9,604.4 1029.9,575.0 1031.1,640.1 1031.8,730.1 1034.1,1130.0 1035.2,1219.9 1037.9,1290.5 1040.2,1329.1 1041.7,1344.1 1043.7,1334.0 1044.8,1314.0 1045.3,1130.0 1046.1,730.1 1048.1,581.2 1050.7,632.7 1054.6,616.6 1054.8,730.1 1057.3,1130.0 1058.6,1218.8 1061.7,1288.6 1064.3,1326.6 1066.1,1341.4 1067.4,1331.3 1068.1,1310.5 1068.2,1271.4 1072.3,1233.2 1074.9,1243.1 1077.6,1225.3 1080.2,1262.6 1082.9,1297.9 1086.4,1333.3 1090.0,1358.2 1091.6,1348.1 1092.4,1327.3 1092.6,1289.1 1095.3,1227.2 1097.9,1190.8 1100.6,1221.9 1104.1,1229.0 1106.8,1271.4 1110.3,1306.8 1112.9,1329.0 1114.1,1319.0 1114.7,1299.0 1115.0,1130.0 1116.8,730.1 1117.4,498.3 1120.0,477.8 1121.4,520.6 1123.7,514.2 1125.1,588.5 1125.5,730.1 1127.1,1130.0 1128.3,1204.7 1131.1,1263.4 1133.4,1295.4 1135.0,1307.8 1137.0,1297.7 1138.0,1277.8 1138.6,1130.0 1140.2,730.1 1142.1,494.6 1143.5,573.6 1145.8,567.3 1148.5,730.1 1151.2,1130.0 1152.2,1209.1 1154.6,1271.3 1156.7,1305.2 1158.0,1318.4 1160.2,1308.3 1161.4,1288.4 1162.0,1130.0 1163.1,730.1 1164.7,530.9 1167.7,577.9 1170.4,560.9 1171.4,730.1 1174.8,1130.0 1176.0,1221.8 1178.8,1293.9 1181.2,1333.2 1182.8,1348.5 1184.0,1338.4 1184.6,1318.4 1185.0,1130.0 1187.0,730.1 1188.1,545.9 1190.7,599.1 1194.6,583.9 1194.4,730.1 1197.8,1130.0 1198.8,1221.4 1201.3,1293.2 1203.4,1332.4 1204.9,1347.6 1207.0,1337.5 1208.2,1317.5 1208.8,1130.0 1210.0,730.1 1211.4,533.5 1214.0,609.7 1218.1,592.7 1218.3,730.1 1220.9,1130.0 1222.4,1228.1 1225.7,1305.1 1228.6,1347.2 1230.5,1363.5 1231.8,1353.4 1232.4,1332.6 1232.6,1289.1 1234.9,1236.1 1237.6,1209.5 1240.7,1192.2 1243.7,1236.1 1246.4,1289.1 1249.0,1333.3 1250.8,1348.5 1252.4,1338.4 1253.3,1317.5 1253.5,1306.8 1257.0,1236.1 1259.7,1209.5 1263.2,1201.4 1265.8,1236.1 1268.0,1271.4 1270.3,1305.0 1272.9,1324.4 1276.4,1338.7 1277.9,1328.7 1278.7,1308.7 1279.1,1130.0 1280.7,730.1 1281.7,467.8 1284.0,563.7 1287.0,566.2 1289.0,730.1 1290.6,1130.0 1291.5,1215.8 1293.7,1283.2 1295.5,1320.0 1296.8,1334.3 1299.2,1324.3 1300.5,1304.3 1301.2,1130.0 1303.7,730.1 1305.3,493.7 1307.9,610.7 1310.6,567.3 1311.1,730.1 1314.4,1130.0 1315.5,1221.0 1318.0,1292.5 1320.1,1331.5 1321.5,1346.7 1323.7,1336.6 1324.9,1316.7 1325.5,1130.0 1327.5,730.1 1328.6,608.6 1331.2,639.7 1333.9,597.1 1334.5,653.0 1334.9,730.1 1338.0,1130.0 1339.2,1216.6 1342.1,1284.6 1344.6,1321.7 1346.2,1336.1 1347.8,1326.0 1348.7,1306.0 1349.2,1130.0 1351.0,730.1 1353.3,556.0 1356.3,579.6 1358.6,567.3 1359.1,730.1 1361.3,1130.0 1362.5,1205.8 1365.2,1265.4 1367.6,1297.8 1369.2,1310.5 1371.4,1300.4 1372.6,1280.4 1373.2,1130.0 1374.0,730.1 1376.3,564.4 1378.1,627.4 1381.6,575.0 1381.8,730.1 1385.7,1130.0 1387.4,1219.2 1391.2,1289.2 1394.4,1327.4 1396.6,1342.3 1397.4,1332.2 1397.7,1311.4 1397.8,1289.1 1399.3,1239.6 1400.1,1227.0 1402.8,1234.3 1406.3,1237.8 1408.1,1262.6 1410.8,1285.5 1413.4,1315.6 1416.1,1344.1 1417.3,1334.0 1418.0,1313.1 1418.2,1289.1 1419.9,1236.1 1421.7,1183.0 1423.3,1144.1 1424.9,1126.1 1428.8,1126.8 1430.5,1147.7 1432.0,1183.0 1433.7,1236.1 1435.5,1289.1 1437.3,1316.7 1440.6,1306.6 1442.4,1286.6 1443.3,1130.0 1444.2,730.1 1446.1,457.0 1448.8,523.1 1452.3,508.8 1453.3,730.1 1455.5,1130.0 1456.8,1203.9 1459.8,1262.0 1462.4,1293.7 1464.1,1306.0 1465.2,1296.0 1465.7,1276.0 1466.0,1130.0 1468.0,730.1 1470.0,537.9 1471.7,647.9 1475.3,569.7 1476.3,730.1 1477.9,1130.0 1479.2,1221.0 1482.3,1292.5 1485.0,1331.5 1486.8,1346.7 1488.0,1336.6 1488.6,1316.7 1489.0,1130.0 1491.2,805.6 1494.2,811.9 1497.4,787.9 1499.3,840.9 1500.0,920.5 1501.8,1130.0 1503.0,1227.7 1505.8,1304.5 1508.1,1346.3 1509.7,1362.6 1512.1,1352.5 1513.3,1332.6 1514.0,1130.0 1514.9,730.1 1517.2,687.3 1522.1,691.7 1522.3,730.1 1525.6,1130.0 1526.8,1227.3 1529.6,1303.8 1532.0,1345.5 1533.6,1361.7 1535.4,1351.7 1536.5,1331.7 1537.0,1130.0 1538.7,730.1 1538.9,621.0 1541.6,676.1 1544.2,618.0 1544.9,665.1 1545.3,730.1 1548.6,1130.0 1549.9,1228.4 1553.0,1305.8 1555.7,1348.0 1557.5,1364.4 1558.5,1354.3 1559.1,1333.4 1559.2,1306.8 1561.9,1253.7 1564.5,1221.9 1567.2,1207.6 1569.5,1244.9 1571.6,1280.2 1575.1,1315.6 1579.6,1353.8 1581.1,1343.7 1582.0,1322.8 1582.2,1306.8 1584.0,1244.9 1585.7,1204.2 1590.2,1166.9 1592.8,1218.4 1594.9,1257.3 1598.1,1306.8 1600.8,1333.3 1603.4,1352.0 1605.5,1341.9 1606.6,1322.0 1607.2,1130.0 1608.0,730.1 1610.0,591.0 1612.6,632.7 1615.8,606.0 1616.0,730.1 1619.3,1130.0 1620.4,1226.2 1622.9,1301.8 1625.0,1343.0 1626.4,1359.1 1628.6,1349.0 1629.8,1329.0 1630.4,1130.0 1632.8,730.1 1634.3,669.8 1637.4,648.9 1638.3,683.0 1638.9,730.1 1642.3,1130.0 1643.5,1235.1 1646.3,1317.7 1648.7,1362.8 1650.3,1380.3 1652.0,1370.2 1652.9,1350.2 1653.3,1130.0 1655.4,730.1 1656.8,690.8 1658.9,707.3 1660.2,730.1 1666.2,1130.0 1667.2,1234.4 1669.7,1316.4 1671.8,1361.1 1673.2,1378.5 1675.4,1368.4 1676.6,1348.5 1677.2,1130.0 1679.8,730.1 1679.4,701.4 1684.7,699.7 1684.8,712.4 1684.9,730.1 1689.1,1130.0 1690.3,1230.3 1693.1,1309.1 1695.5,1352.1 1697.1,1368.8 1699.2,1358.7 1700.3,1338.7 1700.9,1130.0 1703.1,730.1 1705.0,696.3 1708.9,674.0 1709.4,697.6 1709.6,730.1 1712.1,1130.0 1713.4,1220.6 1716.5,1291.9 1719.2,1330.7 1720.9,1345.8 1722.0,1335.7 1722.6,1314.9 1722.7,1289.1 1724.5,1218.4 1726.8,1156.5 1729.2,1112.3 1731.4,1112.3 1733.5,1156.5 1735.1,1209.5 1736.8,1262.6 1739.5,1297.9 1743.0,1342.1 1745.7,1357.3 1746.7,1347.2 1747.3,1326.4 1747.4,1306.8 1749.2,1271.4 1751.0,1260.6 1753.6,1280.2 1757.2,1294.4 1760.7,1299.7 1763.4,1333.3 1766.0,1360.0 1768.4,1349.9 1769.8,1329.9 1770.4,1130.0 1771.7,730.1 1773.1,599.8 1775.9,743.7 1777.1,822.6 1780.3,755.0 1781.0,867.4 1782.2,1130.0 1783.5,1225.5 1786.5,1300.5 1789.0,1341.4 1790.8,1357.3 1792.8,1347.2 1794.0,1327.3 1794.6,1130.0 1795.9,730.1 1796.6,598.0 1799.2,683.9 1802.2,679.3 1803.3,730.1 1806.0,1130.0 1806.9,1229.6 1809.0,1307.8 1810.8,1350.4 1812.0,1367.0 1814.9,1357.0 1816.5,1337.0 1817.3,1130.0 1818.9,730.1 1820.8,595.9 1822.6,687.5 1826.1,666.1 1825.9,730.1 1829.6,1130.0 1830.8,1218.4 1833.3,1287.9 1835.6,1325.8 1837.1,1340.5 1839.2,1330.4 1840.4,1310.5 1841.0,1130.0 1842.7,730.1 1843.8,578.6 1847.0,630.9 1850.0,580.3 1851.0,730.1 1853.1,1130.0 1854.2,1224.4 1856.6,1298.5 1858.7,1338.9 1860.0,1354.7 1862.5,1344.6 1863.9,1324.6 1864.5,1130.0 1865.0,910.1 1866.0,768.5 1866.6,440.0 1867.6,238.8 1870.3,440.0 1871.5,768.5 1873.5,910.1 1875.6,1130.0 1876.9,1224.7 1880.0,1299.2 1882.7,1339.8 1884.4,1355.5 1885.7,1345.5 1886.4,1324.6 1886.6,1289.1 1888.9,1244.9 1891.5,1223.5 1894.2,1253.7 1898.6,1262.6 1901.2,1297.9 1904.8,1342.1 1907.4,1366.1 1909.0,1356.1 1909.8,1335.2 1910.1,1306.8 1912.7,1253.7 1915.4,1200.7 1918.5,1174.9 1921.6,1209.5 1923.3,1244.9 1926.0,1297.9 1928.6,1324.4 1930.4,1352.0 1932.6,1341.9 1933.8,1322.0 1934.5,1130.0 1936.0,730.1 1938.0,469.9 1940.1,584.9 1944.5,566.2 1945.2,730.1 1947.2,1130.0 1948.3,1223.6 1950.9,1297.2 1953.1,1337.3 1954.6,1352.9 1956.1,1342.8 1956.9,1322.8 1957.3,1130.0 1959.0,730.1 1961.3,572.0 1963.6,652.1 1962.7,726.3 1965.4,687.5 1966.4,730.1 1969.3,1130.0 1970.5,1234.0 1973.3,1315.7 1975.6,1360.3 1977.2,1377.6 1979.4,1367.6 1980.5,1347.6 1981.1,1130.0 1983.1,985.1 1984.3,880.7 1990.5,1002.8 1992.3,1130.0 1993.4,1237.3 1996.2,1321.7 1998.6,1367.7 2000.2,1385.6 2002.6,1375.5 2004.0,1355.5 2004.6,1130.0 2006.4,1002.8 2009.0,963.7 2012.6,1006.3 2016.1,1130.0 2016.8,1231.3 2018.5,1311.0 2019.9,1354.4 2020.9,1371.3"/>
</g>
<g id="axes" shape-rendering="crispEdges">
<rect class="ax" x="312.5" y="30.5" width="1967" height="1518"/>
<path class="ax" d="M314.50,1440.50H340.00M314.50,1331.99H326.50M314.50,1223.48H340.00M314.50,1114.98H326.50M314.50,1006.47H340.00M314.50,897.96H326.50M314.50,789.45H340.00M314.50,680.94H326.50M314.50,572.44H340.00M314.50,463.93H326.50M314.50,355.42H340.00M314.50,246.91H326.50M314.50,138.40H340.00"/>
<path class="ax" style="stroke-width:6" d="M476.72,1550.50V1562.00M640.63,1550.50V1574.00M804.55,1550.50V1562.00M968.47,1550.50V1574.00M1132.38,1550.50V1562.00M1296.30,1550.50V1574.00M1460.22,1550.50V1562.00M1624.13,1550.50V1574.00M1788.05,1550.50V1562.00M1951.97,1550.50V1574.00M2115.88,1550.50V1562.00"/>
<path class="ax" d="M312.50,1548.50V1574.00M2279.50,1548.50V1574.00"/>
</g>
<g id="ylabels">
<text x="254.75" y="1462.20" font-size="55.00">0</text>
<text x="195.55 225.15 254.75" y="1245.18" font-size="55.00">200</text>
<text x="195.55 225.15 254.75" y="1028.17" font-size="55.00">400</text>
<text x="195.55 225.15 254.75" y="811.15" font-size="55.00">600</text>
<text x="195.55 225.15 254.75" y="594.14" font-size="55.00">800</text>
<text x="165.95 195.55 225.15 254.75" y="377.12" font-size="55.00">1000</text>
<text x="165.95 195.55 225.15 254.75" y="160.10" font-size="55.00">1200</text>
</g>
<g id="xlabels">
<text x="180.65 210.25 239.85 269.45 305.16 328.65 364.36 387.85 417.45" y="1636.40" font-size="55.00">2017/6/20</text>
<text x="523.28 552.88 582.48 612.08 647.79 671.28 706.99 730.48" y="1636.40" font-size="55.00">2017/7/4</text>
<text x="836.32 865.92 895.52 925.12 960.83 984.32 1020.03 1043.52 1073.12" y="1636.40" font-size="55.00">2017/7/18</text>
<text x="1178.95 1208.55 1238.15 1267.75 1303.46 1326.95 1362.66 1386.15" y="1636.40" font-size="55.00">2017/8/1</text>
<text x="1491.98 1521.58 1551.18 1580.78 1616.49 1639.98 1675.69 1699.18 1728.78" y="1636.40" font-size="55.00">2017/8/15</text>
<text x="1819.82 1849.42 1879.02 1908.62 1944.33 1967.82 2003.53 2027.02 2056.62" y="1636.40" font-size="55.00">2017/8/29</text>
<text x="2147.65 2177.25 2206.85 2236.45 2272.16 2295.65 2331.36 2354.85 2384.45" y="1636.40" font-size="55.00">2017/9/12</text>
</g>
<g id="titles">
<text x="1360.30 1410.96 1433.84 1484.53" y="1722.90" font-size="66.70" transform="scale(0.9000 1)">Time</text>
<text x="-584.16 -530.82 -494.94 -453.25 -405.76 -366.00 -322.38 -286.50 -239.01 -197.32 -163.41 -112.97 -78.07 -38.34 3.34 48.91 86.31 118.68 170.51 219.56 261.24 295.16 336.84 384.38 414.00 446.37 509.82 551.13" y="0.00" font-size="70.00" transform="translate(91.90 741.50) rotate(-90) scale(0.8000 1)">Electricity consumption(kWh)</text>
</g>
<g id="legend">
<path class="red" style="stroke-linecap:butt" stroke-width="5" d="M376.2,141.5H490"/>
<path class="blue" style="stroke-linecap:butt" stroke-width="5" d="M376.2,199.5H490"/>
<text x="517.95 548.05 581.11 606.75 635.35 663.95 694.01 725.58 754.93 778.35 811.38 835.55 864.15 897.18 924.31 954.38 978.55 1011.58 1040.18 1062.85 1098.13 1121.55 1148.65 1177.25 1208.81 1230.53 1255.63 1295.57 1326.18 1354.78 1377.45 1406.05" y="160.10" font-size="53.40">Forecast electricity consumption</text>
<text x="517.43 554.39 582.58 605.25 635.35 668.38 697.73 719.65 746.32 771.42 808.38 838.51 869.33 892.75 919.85 948.45 980.01 1001.73 1026.83 1066.77 1097.38 1125.98 1148.65 1177.25" y="218.30" font-size="53.40">Actual power consumption</text>
</g>
</svg>
</body></html>
